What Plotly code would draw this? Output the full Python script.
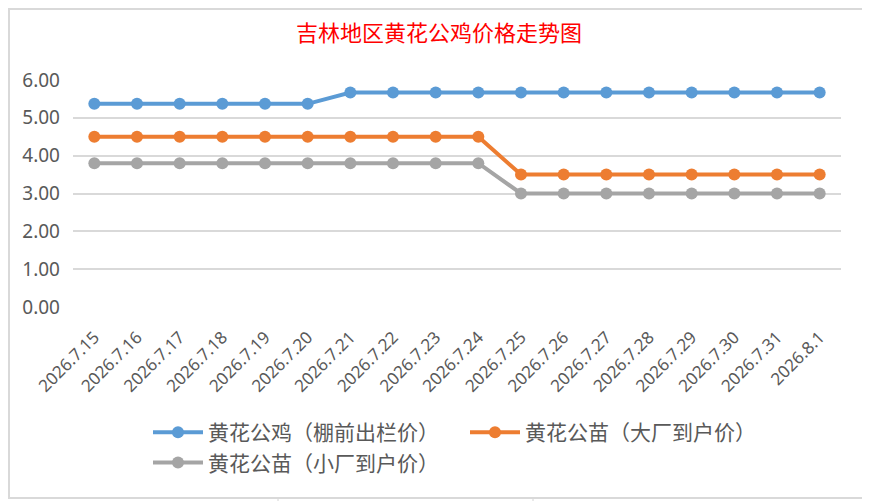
import plotly.graph_objects as go

dates = ["2026.7.15", "2026.7.16", "2026.7.17", "2026.7.18", "2026.7.19", "2026.7.20",
         "2026.7.21", "2026.7.22", "2026.7.23", "2026.7.24", "2026.7.25", "2026.7.26",
         "2026.7.27", "2026.7.28", "2026.7.29", "2026.7.30", "2026.7.31", "2026.8.1"]
rooster = [5.37, 5.37, 5.37, 5.37, 5.37, 5.37, 5.67, 5.67, 5.67, 5.67, 5.67, 5.67,
           5.67, 5.67, 5.67, 5.67, 5.67, 5.67]
chick_big = [4.5, 4.5, 4.5, 4.5, 4.5, 4.5, 4.5, 4.5, 4.5, 4.5, 3.5, 3.5,
             3.5, 3.5, 3.5, 3.5, 3.5, 3.5]
chick_small = [3.8, 3.8, 3.8, 3.8, 3.8, 3.8, 3.8, 3.8, 3.8, 3.8, 3.0, 3.0,
               3.0, 3.0, 3.0, 3.0, 3.0, 3.0]
names = ["黄花公鸡（棚前出栏价）", "黄花公苗（大厂到户价）", "黄花公苗（小厂到户价）"]
colors = ["#5B9BD5", "#ED7D31", "#A5A5A5"]

OFF = 8  # page body margin
W, H = 870 - OFF, 501 - OFF
L, R, T, B = 73 - OFF, 29, 80 - OFF, 194

# page pixel -> paper helpers for the decorative bits
def px(x):
    return (x - OFF - L) / (W - L - R)

def py(y):
    return (H - B - (y - OFF)) / (H - T - B)

fig = go.Figure()
for vals, name, c in zip([rooster, chick_big, chick_small], names, colors):
    fig.add_trace(go.Scatter(x=dates, y=vals, name=name, mode="lines+markers",
                             line=dict(color=c, width=4),
                             marker=dict(color=c, size=12)))

shapes = []
# spreadsheet cell lines behind the chart
for k in range(14):
    y = 16 + 36 * k
    shapes.append(dict(type="line", xref="paper", yref="paper", x0=px(0), x1=px(870),
                       y0=py(y), y1=py(y), line=dict(color="#D4D4D4", width=1), layer="below"))
for x in [278, 533]:
    shapes.append(dict(type="line", xref="paper", yref="paper", x0=px(x), x1=px(x),
                       y0=py(0), y1=py(501), line=dict(color="#D4D4D4", width=1), layer="below"))
# chart area
shapes.append(dict(type="rect", xref="paper", yref="paper", x0=px(9), x1=px(866),
                   y0=py(9), y1=py(498), fillcolor="white",
                   line=dict(color="#D9D9D9", width=2), layer="below"))

fig.update_layout(
    width=W, height=H,
    margin=dict(l=L, r=R, t=T, b=B, autoexpand=False),
    paper_bgcolor="white", plot_bgcolor="rgba(0,0,0,0)",
    font=dict(family="Noto Sans CJK SC", color="#595959"),
    title=dict(text="吉林地区黄花公鸡价格走势图", x=0.5, xanchor="center",
               y=1 - (33 - OFF) / H, yanchor="middle", yref="container",
               font=dict(size=22, color="#FF0000", family="Noto Sans CJK SC")),
    showlegend=True,
    legend=dict(orientation="h", x=px(148), xanchor="left", y=py(412), yanchor="top",
                itemwidth=50, entrywidth=252, entrywidthmode="pixels",
                font=dict(size=21, color="#595959"), bgcolor="rgba(0,0,0,0)"),
    shapes=shapes,
)
fig.update_xaxes(type="category", range=[-0.5, len(dates) - 0.5], tickangle=-45,
                 showgrid=False, showline=False, ticks="", ticklabelstandoff=16,
                 automargin=False,
                 tickfont=dict(size=17, family="Noto Sans", color="#595959"))
fig.update_yaxes(range=[0, 6], dtick=1, tickformat=".2f", showgrid=True,
                 gridcolor="#D9D9D9", gridwidth=1.5, zeroline=False, showline=False,
                 ticks="", ticklabelstandoff=12, automargin=False,
                 tickfont=dict(size=19, family="Noto Sans", color="#595959"))

fig.write_html("out.html")
